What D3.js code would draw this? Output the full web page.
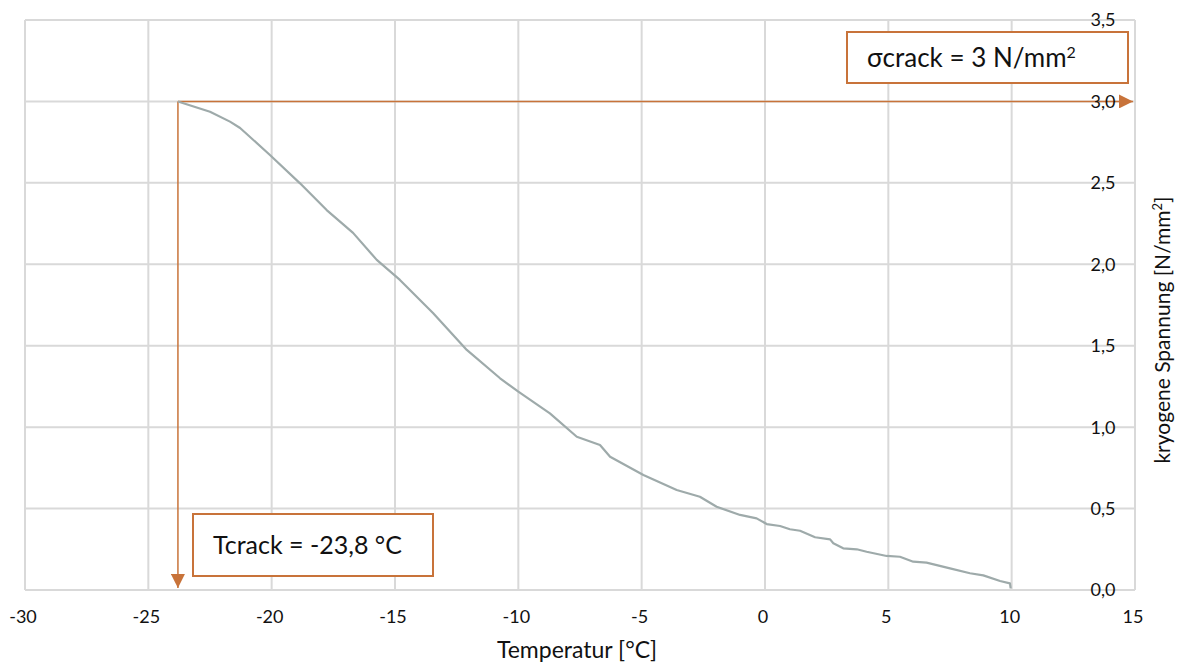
<!DOCTYPE html>
<html>
<head>
<meta charset="utf-8">
<script src="https://cdn.jsdelivr.net/npm/d3@7"></script>
<style>
  body { margin: 0; background: #fff; }
  svg { display: block; font-family: Lato, "Open Sans", sans-serif; }
</style>
</head>
<body>
<svg id="chart" width="1183" height="666"></svg>
<script>
// measured curve: temperature [°C] vs cryogenic stress [N/mm²]
const temps = [-23.8, -22.5, -21.69, -21.28, -20.07, -18.85, -17.77, -16.7, -15.74, -14.8,
  -13.45, -12.09, -10.74, -10.0, -8.72, -7.63, -6.69, -6.28, -4.93, -3.58, -2.64,
  -1.96, -1.01, -0.34, 0.07, 0.61, 1.01, 1.42, 2.03, 2.64, 2.77, 3.17, 3.72, 4.12,
  4.93, 5.47, 6.01, 6.55, 7.5, 8.31, 8.85, 9.53, 9.93, 9.96];
const stress = [3.0, 2.937, 2.876, 2.837, 2.671, 2.497, 2.333, 2.193, 2.027, 1.904,
  1.699, 1.474, 1.3, 1.218, 1.085, 0.941, 0.89, 0.818, 0.706, 0.614, 0.573,
  0.511, 0.461, 0.44, 0.405, 0.393, 0.373, 0.364, 0.324, 0.311, 0.287, 0.256, 0.25, 0.235,
  0.209, 0.204, 0.174, 0.168, 0.133, 0.103, 0.09, 0.055, 0.041, 0.01];

const xTicks = [-30, -25, -20, -15, -10, -5, 0, 5, 10, 15];
const yTicks = [0, 0.5, 1.0, 1.5, 2.0, 2.5, 3.0, 3.5];

const tCrack = -23.8;
const sigmaCrack = 3.0;

const margin = {top: 20, right: 48, bottom: 76, left: 25};
const width = 1183 - margin.left - margin.right;
const height = 666 - margin.top - margin.bottom;

const orange = '#c8733a';

const svg = d3.select('#chart');
const g = svg.append('g').attr('transform', 'translate(' + margin.left + ',' + margin.top + ')');

const x = d3.scaleLinear().domain([-30, 15]).range([0, width]);
const y = d3.scaleLinear().domain([0, 3.5]).range([height, 0]);

const fmt = d3.format('.1f');
const comma = v => fmt(v).replace('.', ',');

// grid
g.append('g')
  .selectAll('line')
  .data(xTicks)
  .enter().append('line')
  .attr('x1', d => x(d)).attr('x2', d => x(d))
  .attr('y1', 0).attr('y2', height)
  .attr('stroke', '#d9d9d9').attr('stroke-width', 2);

g.append('g')
  .selectAll('line')
  .data(yTicks)
  .enter().append('line')
  .attr('x1', 0).attr('x2', width)
  .attr('y1', d => y(d)).attr('y2', d => y(d))
  .attr('stroke', '#d9d9d9').attr('stroke-width', 2);

// x tick labels
g.append('g')
  .selectAll('text')
  .data(xTicks)
  .enter().append('text')
  .attr('x', d => x(d) - 2)
  .attr('y', height + 33)
  .attr('text-anchor', 'middle')
  .style('font-size', '18px')
  .attr('fill', '#111')
  .text(d => d);

// annotation lines with arrowheads
const defs = svg.append('defs');
defs.append('marker')
  .attr('id', 'arrow')
  .attr('viewBox', '0 0 10 10')
  .attr('refX', 10).attr('refY', 5)
  .attr('markerWidth', 14).attr('markerHeight', 14)
  .attr('markerUnits', 'userSpaceOnUse')
  .attr('orient', 'auto')
  .append('path')
  .attr('d', 'M0,0L10,5L0,10Z')
  .attr('fill', orange);

g.append('line')
  .attr('x1', x(tCrack)).attr('x2', x(15) - 2)
  .attr('y1', y(sigmaCrack)).attr('y2', y(sigmaCrack))
  .attr('stroke', orange).attr('stroke-width', 1.5)
  .attr('marker-end', 'url(#arrow)');

g.append('line')
  .attr('x1', x(tCrack)).attr('x2', x(tCrack))
  .attr('y1', y(sigmaCrack)).attr('y2', y(0) - 2)
  .attr('stroke', orange).attr('stroke-width', 1.5)
  .attr('marker-end', 'url(#arrow)');

// y tick labels (drawn inside, over the grid)
g.append('g')
  .selectAll('text')
  .data(yTicks)
  .enter().append('text')
  .attr('x', x(15) - 32)
  .attr('y', d => y(d))
  .attr('dy', '0.36em')
  .attr('text-anchor', 'middle')
  .style('font-size', '18px')
  .attr('fill', '#111')
  .text(d => comma(d));

// curve
const line = d3.line()
  .x((d, i) => x(temps[i]))
  .y((d, i) => y(stress[i]));

g.append('path')
  .datum(stress)
  .attr('d', line)
  .attr('fill', 'none')
  .attr('stroke', '#9eaaaa')
  .attr('stroke-width', 2.2)
  .attr('stroke-linejoin', 'round');

// annotation boxes
function box(x0, y0, w, h, size, parts) {
  svg.append('rect')
    .attr('x', x0).attr('y', y0).attr('width', w).attr('height', h)
    .attr('fill', '#fff').attr('stroke', orange).attr('stroke-width', 2);
  const t = svg.append('text')
    .attr('x', x0 + 20).attr('y', y0 + h / 2)
    .attr('dy', '0.36em')
    .style('font-size', size + 'px')
    .attr('fill', '#111');
  parts.forEach(p => {
    const s = t.append('tspan').text(p.text);
    if (p.sup) s.attr('baseline-shift', 'super').style('font-size', '16px');
  });
}

box(847, 32, 281, 51, 26, [{text: 'σcrack = 3 N/mm'}, {text: '2', sup: true}]);
box(193, 514, 240, 62, 25, [{text: 'Tcrack = -23,8 °C'}]);

// axis titles
svg.append('text')
  .attr('x', margin.left + x(-7.5) - 3)
  .attr('y', 658)
  .attr('text-anchor', 'middle')
  .style('font-size', '23px')
  .attr('fill', '#111')
  .text('Temperatur [°C]');

const yt = svg.append('text')
  .attr('transform', 'translate(1170,330) rotate(-90)')
  .attr('text-anchor', 'middle')
  .style('font-size', '21px')
  .attr('fill', '#111');
yt.append('tspan').text('kryogene Spannung [N/mm');
yt.append('tspan').text('2').attr('baseline-shift', 'super').style('font-size', '13px');
yt.append('tspan').text(']');
</script>
</body>
</html>
